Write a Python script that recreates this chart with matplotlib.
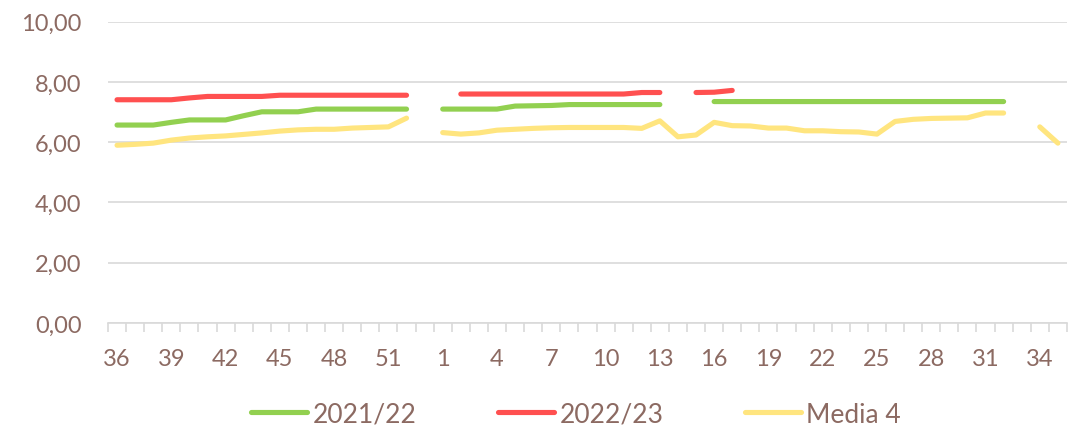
import matplotlib.pyplot as plt
import numpy as np

nan = np.nan

# semanas de la temporada: 36..53 y 1..35
semanas = list(range(36, 54)) + list(range(1, 36))

temporada_2122 = [6.57, 6.57, 6.57, 6.66, 6.74, 6.74, 6.74, 6.88, 7.01, 7.01,
                  7.01, 7.10, 7.10, 7.10, 7.10, 7.10, 7.10, nan,
                  7.10, 7.10, 7.10, 7.10, 7.20, 7.21, 7.22, 7.25, 7.25, 7.25,
                  7.25, 7.25, 7.25, nan, nan, 7.35, 7.35, 7.35, 7.35, 7.35,
                  7.35, 7.35, 7.35, 7.35, 7.35, 7.35, 7.35, 7.35, 7.35, 7.35,
                  7.35, 7.35, nan, nan, nan]

temporada_2223 = [7.41, 7.41, 7.41, 7.41, 7.47, 7.52, 7.52, 7.52, 7.52, 7.56,
                  7.56, 7.56, 7.56, 7.56, 7.56, 7.56, 7.56, nan,
                  nan, 7.60, 7.60, 7.60, 7.60, 7.60, 7.60, 7.60, 7.60, 7.60,
                  7.60, 7.65, 7.65, nan, 7.65, 7.66, 7.72, nan, nan, nan,
                  nan, nan, nan, nan, nan, nan, nan, nan, nan, nan,
                  nan, nan, nan, nan, nan]

media_4 = [5.90, 5.93, 5.97, 6.07, 6.14, 6.18, 6.21, 6.26, 6.31, 6.37,
           6.41, 6.43, 6.43, 6.47, 6.49, 6.51, 6.80, nan,
           6.32, 6.27, 6.31, 6.40, 6.43, 6.46, 6.48, 6.49, 6.49, 6.49,
           6.49, 6.46, 6.71, 6.18, 6.24, 6.66, 6.55, 6.54, 6.47, 6.47,
           6.38, 6.38, 6.35, 6.34, 6.27, 6.69, 6.76, 6.79, 6.80, 6.81,
           6.97, 6.97, nan, 6.51, 5.97]

series = [("2021/22", temporada_2122, "#92D050"),
          ("2022/23", temporada_2223, "#FF5050"),
          ("Media 4", media_4, "#FFE57F")]

texto = "#8C6A62"
gris = "#D9D9D9"
plt.rcParams["font.family"] = ["Lato", "DejaVu Sans"]
plt.rcParams["font.size"] = 17

fig = plt.figure(figsize=(10.81, 4.27), dpi=100)
ax = fig.add_axes([0.0999, 0.2412, 0.8871, 0.7056])

x = np.arange(len(semanas))
for nombre, valores, color in series:
    ax.plot(x, valores, color=color, lw=3.7, solid_capstyle="round",
            solid_joinstyle="round", label=nombre)

ax.set_xlim(-0.5, len(semanas) - 0.5)
ax.set_ylim(0, 10)
ax.set_yticks(np.arange(0, 11, 2))
ax.set_yticklabels([f"{v:.2f}".replace(".", ",") for v in np.arange(0, 11, 2)])
ax.yaxis.grid(True, color=gris, lw=1.2)
ax.set_axisbelow(True)

pos = x[::3]
ax.set_xticks(pos)
ax.set_xticklabels([str(semanas[i]) for i in pos])
ax.set_xticks(np.arange(-0.5, len(semanas)), minor=True)
ax.tick_params(axis="x", which="major", length=0, pad=18, colors=texto)
ax.tick_params(axis="x", which="minor", length=6.3, width=1.2, color=gris)
ax.tick_params(axis="y", length=0, pad=19, colors=texto)

for s in ["top", "right", "left"]:
    ax.spines[s].set_visible(False)
ax.spines["bottom"].set_color(gris)
ax.spines["bottom"].set_linewidth(1.2)

leg = fig.legend(loc="center", bbox_to_anchor=(0.533, 0.028), ncol=3,
                 frameon=False, fontsize=19, handlelength=2.12,
                 handletextpad=0.2, columnspacing=3.1)
for t in leg.get_texts():
    t.set_color(texto)

fig.savefig("out.png", dpi=100)
